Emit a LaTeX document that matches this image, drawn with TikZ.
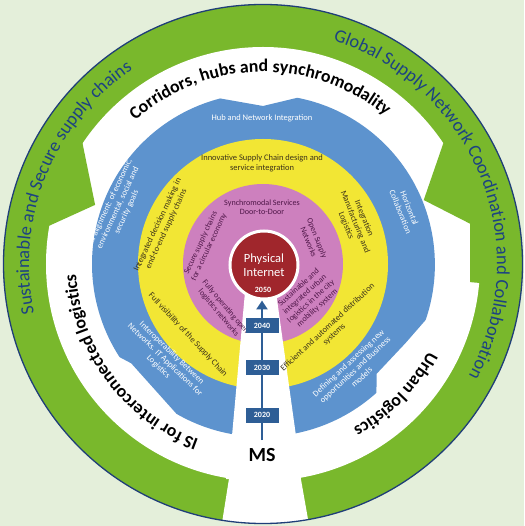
\documentclass[tikz,border=0pt]{standalone}
\usepackage{fontspec}
\setmainfont{Carlito}
\usetikzlibrary{decorations.text,arrows.meta}
\definecolor{bgc}{RGB}{228,239,218}
\definecolor{grn}{RGB}{121,184,44}
\definecolor{navy}{RGB}{31,62,120}
\definecolor{gtext}{RGB}{28,66,130}
\definecolor{blu}{RGB}{93,147,206}
\definecolor{yel}{RGB}{242,230,52}
\definecolor{pnk}{RGB}{205,128,190}
\definecolor{rd}{RGB}{160,38,44}
\definecolor{arrb}{RGB}{46,94,150}
\definecolor{ytext}{RGB}{60,50,25}
\definecolor{ptext}{RGB}{78,22,72}
\tikzset{
  itxt/.style={align=center, inner sep=0pt, font=\fontsize{8.5}{9.6}\selectfont},
  wtxt/.style={itxt, text=white},
  yt/.style={itxt, text=ytext},
  pt/.style={itxt, text=ptext, font=\fontsize{8.1}{9.2}\selectfont},
  yearbox/.style={fill=arrb, text=white, minimum width=33pt, minimum height=15pt, inner sep=0pt, font=\fontsize{8}{8}\selectfont\bfseries},
  arcbig/.style={decorate, decoration={text along path, text align=center, text color=gtext,
     text={|\fontsize{18.5}{18.5}\selectfont|#1}}},
  arcbold/.style={decorate, decoration={text along path, text align=center, text color=black,
     text={|\fontsize{17.8}{17.8}\selectfont\bfseries|#1}}},
}
\begin{document}
\begin{tikzpicture}[x=1pt,y=1pt]
\useasboundingbox (-263,-262) rectangle (261,264);
\fill[bgc] (-263,-262) rectangle (261,264);
% green ring
\fill[grn] (0,0) circle[radius=259.5];
% white ring + bottom gap
\fill[white] (0,0) circle[radius=217];
\fill[white] (261:200) -- (261:259.5) arc[start angle=261,end angle=280,radius=259.5] -- (280:200) -- cycle;
% green chevron notches
\fill[grn] (146:218) -- (160.6:178) -- (170:218) arc[start angle=170,end angle=146,radius=218] -- cycle;
\fill[grn] (34:218) -- (21.7:173) -- (11:211) -- (-5:208) -- (-5:218) arc[start angle=-5,end angle=34,radius=218] -- cycle;
% blue ring
\fill[blu] (341:172) arc[start angle=341,end angle=439,radius=170] -- (90:158) -- (104.5:171)
  arc[start angle=104.5,end angle=213,radius=171] -- (217:165) -- (240:173)
  arc[start angle=240,end angle=312,radius=171] -- (316:158) -- (331:163) -- cycle;
% yellow, pink
\fill[yel] (0,0) circle[radius=125];
\fill[pnk] (0,0) circle[radius=80];
% inner white wedge
\fill[white] (-18,-28) -- (13,-28) -- (33,-172) -- (38,-215) -- (-37,-215) -- (-31,-172) -- cycle;
% outline
\draw[navy, line width=1.3] (0,0) circle[radius=259.5];

% ring texts
\path[arcbig={Sustainable and Secure supply chains}] (208:234) arc[start angle=208,end angle=108,radius=234];
\path[arcbig={Global Supply Network Coordination and Collaboration}] (85:234) arc[start angle=85,end angle=-41,radius=234];
\path[arcbold={Corridors, hubs and synchromodality}] (150:192) arc[start angle=150,end angle=32,radius=192];
\path[arcbold={IS for interconnected logistics}] (265:187) arc[start angle=265,end angle=168,radius=187];
\path[arcbold={Urban logistics}] (345:187) arc[start angle=345,end angle=286,radius=187];

% blue texts
\node[wtxt] (hub) at (-1,146) {Hub and Network Integration};
\node[wtxt, rotate=65] (align) at (-145,56) {Full alignment: of economic,\\environmental, social and\\security goals};
\node[wtxt, rotate=-68] (horiz) at (142,54) {Horizontal\\Collaboration};
\node[wtxt, rotate=-44] (interop) at (-98,-96) {Interoperability Between\\Networks. IT Applications for\\Logistics};
\node[wtxt, rotate=43] (defin) at (92,-106) {Defining and assessing new\\opportunities and Business\\models};
% yellow texts
\node[yt] (innov) at (-1,100.5) {Innovative Supply Chain design and\\service integration};
\node[yt, rotate=65] (integ) at (-101,37) {Integrated decision making in\\end-to-end supply chains};
\node[yt, rotate=-68] (manuf) at (92,42) {Integration\\Manufacturing and\\Logistics};
\node[yt, rotate=-47] (visib) at (-75,-71) {Full visibility of the Supply Chain};
\node[yt, rotate=43] (effic) at (68,-67) {Efficient and automated distribution\\systems};
% pink texts
\node[pt] (synchro) at (-1,56.5) {Synchromodal Services\\Door-to-Door};
\node[pt, rotate=65] (secure) at (-58,19) {Secure supply chains\\for a circular economy};
\node[pt, rotate=-68] (open) at (50,24) {Open Supply\\Networks};
\node[pt, rotate=-50] (fully) at (-41,-46) {Fully operating open\\logistics networks};
\node[pt, rotate=42] (urbsus) at (45,-34) {Sustainable and\\integrated urban\\logistics in the city\\mobility system};

% centre
\node[circle, fill=rd, draw=white, line width=3pt, minimum size=68pt, inner sep=0pt,
      text=white, align=center, font=\fontsize{12.5}{14.5}\selectfont] (pi) at (1,-1) {Physical\\Internet};
\node[text=white, font=\fontsize{8}{8}\selectfont\bfseries, inner sep=0pt] (y2050) at (0,-26) {2050};

% arrow and years
\coordinate (ab) at (-1,-176);
\draw[arrb, line width=2.6pt, -{Triangle[width=11pt,length=9pt]}] (ab) -- (ab |- pi.south);
\node[yearbox] (y2040) at (-1,-61.5) {2040};
\node[yearbox] (y2030) at (-1,-103.5) {2030};
\node[yearbox] (y2020) at (-1,-151) {2020};
\node[font=\fontsize{20}{20}\selectfont\bfseries, inner sep=0pt] (ms) at (-1,-191) {MS};
\end{tikzpicture}
\end{document}
